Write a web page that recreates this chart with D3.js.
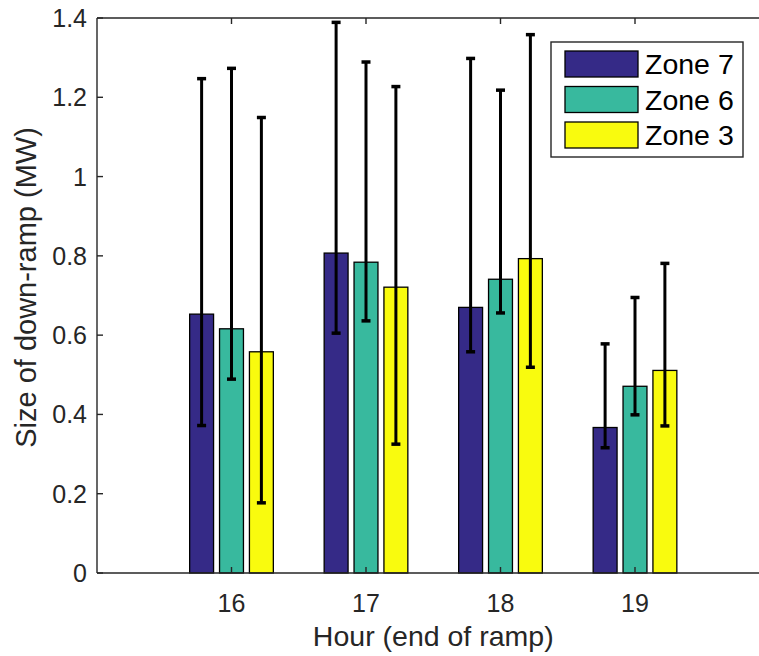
<!DOCTYPE html>
<html>
<head>
<meta charset="utf-8">
<script src="https://cdn.jsdelivr.net/npm/d3@7"></script>
<style>
  html, body { margin: 0; padding: 0; background: #fff; }
  svg { display: block; font-family: "Liberation Sans", Arial, Helvetica, sans-serif; }
</style>
</head>
<body>
<svg id="chart" width="759" height="656"></svg>
<script>
// ---- data ----
const hours = [16, 17, 18, 19];
const seriesNames = ["Zone 7", "Zone 6", "Zone 3"];
const zone7 = [0.653, 0.807, 0.670, 0.367];
const zone6 = [0.616, 0.784, 0.741, 0.471];
const zone3 = [0.558, 0.721, 0.793, 0.511];
const zone7Lo = [0.372, 0.605, 0.558, 0.316];
const zone7Hi = [1.247, 1.389, 1.298, 0.578];
const zone6Lo = [0.489, 0.636, 0.656, 0.399];
const zone6Hi = [1.273, 1.289, 1.218, 0.695];
const zone3Lo = [0.177, 0.325, 0.519, 0.371];
const zone3Hi = [1.149, 1.227, 1.358, 0.781];
const yTicks = [0, 0.2, 0.4, 0.6, 0.8, 1, 1.2, 1.4];
const xLabel = "Hour (end of ramp)";
const yLabel = "Size of down-ramp (MW)";
const colors = ["#352a87", "#38b99e", "#f9fb0e"];

const values = [zone7, zone6, zone3];
const los = [zone7Lo, zone6Lo, zone3Lo];
const his = [zone7Hi, zone6Hi, zone3Hi];

// ---- layout ----
const svg = d3.select("#chart");
const pLeft = 97, pRight = 769.5, pTop = 18, pBottom = 573;
const axisColor = "#262626";

const x = d3.scaleLinear().domain([15, 20]).range([pLeft, pRight]);
const y = d3.scaleLinear().domain([0, 1.4]).range([pBottom, pTop]);

const groupWidth = Math.min(0.8, 3 / (3 + 1.5));
const step = groupWidth / 3;
const barW = step * 0.8;

// bars
const g = svg.append("g");
values.forEach((vals, si) => {
  const off = (si - 1) * step;
  g.selectAll(null).data(hours.map((h, i) => ({h, v: vals[i]})))
    .enter().append("rect")
    .attr("x", d => x(d.h + off - barW / 2))
    .attr("width", d => x(d.h + off + barW / 2) - x(d.h + off - barW / 2))
    .attr("y", d => y(d.v))
    .attr("height", d => y(0) - y(d.v))
    .attr("fill", colors[si])
    .attr("stroke", "#000")
    .attr("stroke-width", 1.3);
});

// error bars
values.forEach((vals, si) => {
  const off = (si - 1) * step;
  const data = hours.map((h, i) => ({h, lo: los[si][i], hi: his[si][i]}));
  const eg = g.append("g").attr("stroke", "#000");
  eg.selectAll(null).data(data).enter().append("line")
    .attr("x1", d => x(d.h + off)).attr("x2", d => x(d.h + off))
    .attr("y1", d => y(d.lo)).attr("y2", d => y(d.hi))
    .attr("stroke-width", 3);
  ["lo", "hi"].forEach(k => {
    eg.selectAll(null).data(data).enter().append("line")
      .attr("x1", d => x(d.h + off) - 4.5).attr("x2", d => x(d.h + off) + 4.5)
      .attr("y1", d => y(d[k])).attr("y2", d => y(d[k]))
      .attr("stroke-width", 3.5);
  });
});

// axes
const tickLen = 6;
const ax = svg.append("g").attr("stroke", axisColor).attr("stroke-width", 1.4).attr("fill", "none");
ax.append("line").attr("x1", pLeft).attr("x2", 759).attr("y1", pBottom).attr("y2", pBottom);
ax.append("line").attr("x1", pLeft).attr("x2", 759).attr("y1", pTop).attr("y2", pTop);
ax.append("line").attr("x1", pLeft).attr("x2", pLeft).attr("y1", pTop).attr("y2", pBottom);
ax.selectAll(null).data(yTicks).enter().append("line")
  .attr("x1", pLeft).attr("x2", pLeft + tickLen)
  .attr("y1", d => y(d)).attr("y2", d => y(d));
ax.selectAll(null).data(hours).enter().append("line")
  .attr("x1", d => x(d)).attr("x2", d => x(d))
  .attr("y1", pBottom).attr("y2", pBottom - tickLen);
ax.selectAll(null).data(hours).enter().append("line")
  .attr("x1", d => x(d)).attr("x2", d => x(d))
  .attr("y1", pTop).attr("y2", pTop + tickLen);

// tick labels
const fs = 25;
svg.append("g").selectAll("text").data(yTicks).enter().append("text")
  .attr("x", pLeft - 10).attr("y", d => y(d))
  .attr("dy", "0.36em")
  .attr("text-anchor", "end")
  .attr("font-size", fs).attr("fill", axisColor)
  .text(d => d3.format("~g")(d));
svg.append("g").selectAll("text").data(hours).enter().append("text")
  .attr("x", d => x(d)).attr("y", 612)
  .attr("text-anchor", "middle")
  .attr("font-size", fs).attr("fill", axisColor)
  .text(d => d);

// axis labels
svg.append("text").attr("x", (pLeft + pRight) / 2).attr("y", 646)
  .attr("text-anchor", "middle").attr("font-size", 28.5).attr("fill", axisColor)
  .text(xLabel);
svg.append("text").attr("transform", `translate(36,${(pTop + pBottom) / 2 - 8}) rotate(-90)`)
  .attr("text-anchor", "middle").attr("font-size", 29).attr("fill", axisColor)
  .text(yLabel);

// legend
const lg = svg.append("g");
lg.append("rect").attr("x", 551).attr("y", 42).attr("width", 192).attr("height", 115)
  .attr("fill", "#fff").attr("stroke", axisColor).attr("stroke-width", 1.4);
seriesNames.forEach((name, i) => {
  const cy = 64 + i * 35.5;
  lg.append("rect").attr("x", 565).attr("y", cy - 13).attr("width", 73).attr("height", 26)
    .attr("fill", colors[i]).attr("stroke", "#000").attr("stroke-width", 1.3);
  lg.append("text").attr("x", 645).attr("y", cy).attr("dy", "0.36em")
    .attr("font-size", 28.5).attr("fill", "#000").text(name);
});
</script>
</body>
</html>
